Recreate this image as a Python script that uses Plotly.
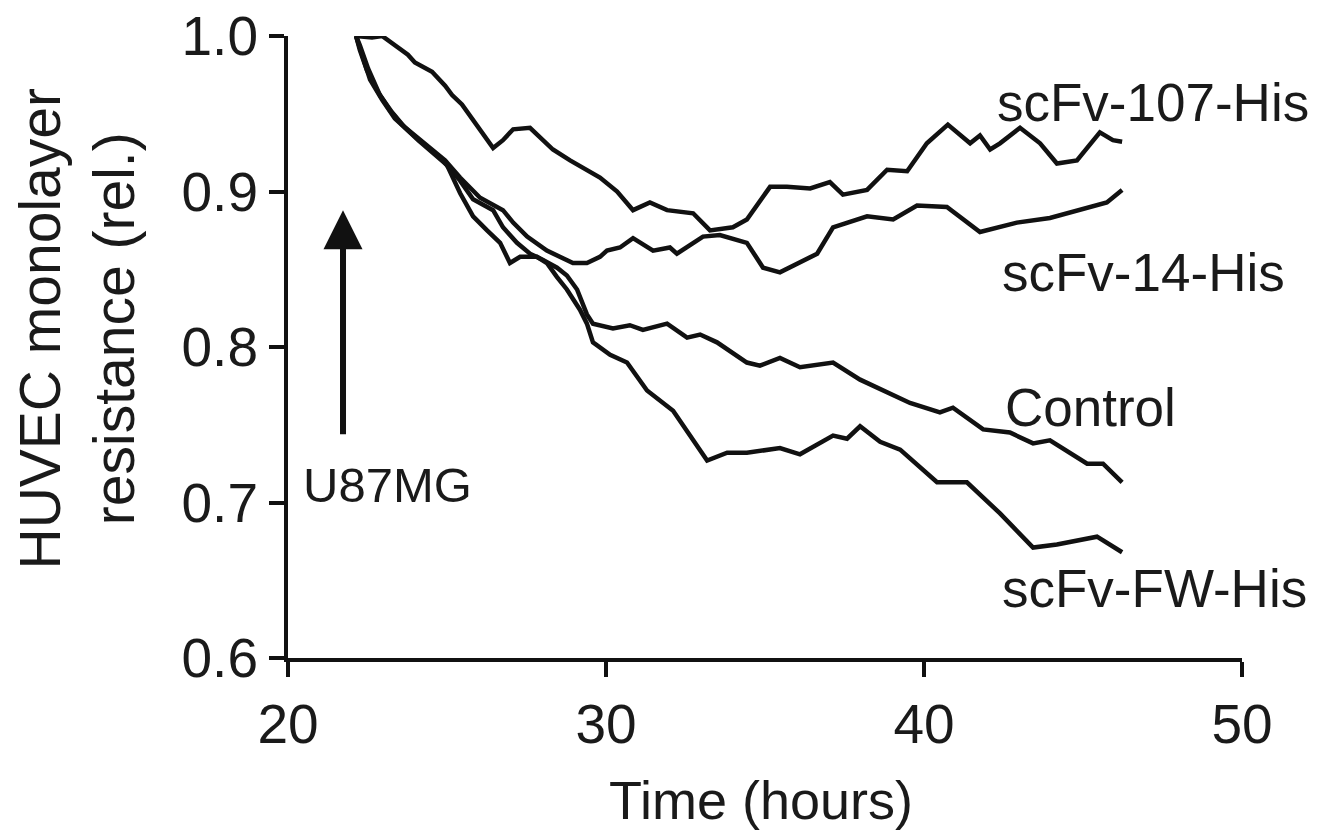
import plotly.graph_objects as go

# ---- data ----
t_107 = [22.14, 22.64, 22.96, 23.36, 23.77, 23.99, 24.53, 24.94, 25.16, 25.47, 25.79, 26.10, 26.45, 26.76,
         27.08, 27.61, 28.33, 28.87, 29.40, 29.81, 30.35, 30.85, 31.38, 31.92, 32.74, 33.27, 33.99, 34.43,
         35.16, 35.69, 36.42, 37.04, 37.45, 38.21, 38.84, 39.47, 40.09, 40.75, 41.45, 41.76, 42.08, 42.39,
         43.02, 43.65, 44.18, 44.81, 45.53, 45.94, 46.23]
r_107 = [1.000, 0.999, 1.000, 0.994, 0.988, 0.983, 0.977, 0.968, 0.962, 0.956, 0.947, 0.938, 0.928, 0.933,
         0.940, 0.941, 0.927, 0.920, 0.914, 0.909, 0.900, 0.888, 0.893, 0.888, 0.886, 0.875, 0.877, 0.882,
         0.903, 0.903, 0.902, 0.906, 0.898, 0.901, 0.914, 0.913, 0.931, 0.943, 0.931, 0.936, 0.927, 0.931,
         0.941, 0.931, 0.918, 0.920, 0.938, 0.933, 0.932]

t_14 = [22.14, 22.26, 22.48, 22.83, 23.21, 23.58, 23.99, 24.47, 24.94, 25.41, 26.04, 26.76, 27.08, 27.52,
        28.14, 28.96, 29.40, 29.81, 30.03, 30.44, 30.85, 31.48, 32.01, 32.23, 33.05, 33.58, 34.43, 34.94,
        35.47, 36.64, 37.14, 38.21, 39.03, 39.78, 40.72, 41.76, 42.92, 43.96, 45.22, 45.75, 46.23]
r_14 = [1.000, 0.991, 0.978, 0.964, 0.952, 0.943, 0.936, 0.928, 0.920, 0.909, 0.896, 0.888, 0.880, 0.871,
        0.862, 0.854, 0.854, 0.858, 0.862, 0.864, 0.870, 0.862, 0.864, 0.860, 0.871, 0.872, 0.867, 0.851,
        0.848, 0.860, 0.877, 0.884, 0.882, 0.891, 0.890, 0.874, 0.880, 0.883, 0.890, 0.893, 0.901]

t_ctrl = [22.14, 22.33, 22.58, 22.96, 23.36, 23.84, 24.31, 24.78, 25.41, 25.82, 26.45, 26.76, 27.20, 27.61,
          28.02, 28.46, 28.77, 29.09, 29.40, 29.59, 30.22, 30.75, 31.16, 31.92, 32.55, 32.96, 33.49, 34.43,
          34.84, 35.47, 36.10, 37.14, 37.99, 38.71, 39.56, 40.50, 40.91, 41.86, 42.70, 43.43, 43.96, 45.13,
          45.63, 46.23]
r_ctrl = [1.000, 0.988, 0.972, 0.959, 0.947, 0.938, 0.930, 0.922, 0.907, 0.895, 0.888, 0.877, 0.867, 0.860,
          0.856, 0.851, 0.846, 0.837, 0.821, 0.815, 0.812, 0.814, 0.811, 0.815, 0.806, 0.808, 0.803, 0.790,
          0.788, 0.793, 0.787, 0.790, 0.779, 0.772, 0.764, 0.758, 0.761, 0.747, 0.745, 0.738, 0.740, 0.725,
          0.725, 0.713]

t_fw = [22.14, 22.26, 22.52, 22.89, 23.27, 23.68, 24.09, 24.53, 25.00, 25.41, 25.82, 26.26, 26.67, 26.98,
        27.30, 27.83, 28.14, 28.46, 28.77, 29.18, 29.40, 29.59, 30.13, 30.66, 31.29, 32.11, 32.64, 33.18,
        33.81, 34.43, 35.47, 36.10, 37.14, 37.58, 37.99, 38.62, 39.25, 40.41, 41.35, 42.39, 43.43, 44.18,
        45.44, 46.23]
r_fw = [1.000, 0.994, 0.979, 0.962, 0.951, 0.941, 0.933, 0.925, 0.917, 0.899, 0.884, 0.875, 0.867, 0.854,
        0.858, 0.858, 0.854, 0.845, 0.837, 0.824, 0.815, 0.803, 0.795, 0.790, 0.772, 0.759, 0.743, 0.727,
        0.732, 0.732, 0.735, 0.731, 0.743, 0.741, 0.749, 0.739, 0.734, 0.713, 0.713, 0.693, 0.671, 0.673,
        0.678, 0.668]

series = [("scFv-107-His", t_107, r_107), ("scFv-14-His", t_14, r_14),
          ("Control", t_ctrl, r_ctrl), ("scFv-FW-His", t_fw, r_fw)]

# label positions (data coords)
label_names = ["scFv-107-His", "scFv-14-His", "Control", "scFv-FW-His"]
label_x = [42.23, 42.39, 42.48, 42.39]
label_y = [0.957, 0.848, 0.761, 0.645]

x_ticks = [20, 30, 40, 50]
y_ticks = [0.6, 0.7, 0.8, 0.9, 1.0]
y_tick_text = ["0.6", "0.7", "0.8", "0.9", "1.0"]

FONT = "Liberation Sans, Arial, sans-serif"
INK = "#111111"
TXT = "#1a1a1a"

fig = go.Figure()
for name, t, r in series:
    fig.add_trace(go.Scatter(x=t, y=r, mode="lines", name=name,
                             line=dict(color=INK, width=4.5), showlegend=False))

for name, lx, ly in zip(label_names, label_x, label_y):
    fig.add_annotation(x=lx, y=ly, xref="x", yref="y", text=name, showarrow=False,
                       xanchor="left", yanchor="middle",
                       font=dict(family=FONT, size=53, color=TXT))

# U87MG arrow + label
fig.add_annotation(x=21.73, y=0.888, ax=21.73, ay=0.743, xref="x", yref="y",
                   axref="x", ayref="y", text="", showarrow=True,
                   arrowhead=2, arrowsize=1.3, arrowwidth=6, arrowcolor=INK)
fig.add_annotation(x=20.42, y=0.711, xref="x", yref="y", text="U87MG", showarrow=False,
                   xanchor="left", yanchor="middle",
                   font=dict(family=FONT, size=49, color=TXT))

# axis titles
fig.add_annotation(x=-0.221, y=0.53, xref="paper", yref="paper",
                   text="HUVEC monolayer<br>resistance (rel.)", textangle=-90,
                   showarrow=False, xanchor="center", yanchor="middle",
                   font=dict(family=FONT, size=57, color=TXT))
fig.add_annotation(x=0.496, y=-0.228, xref="paper", yref="paper",
                   text="Time (hours)", showarrow=False, xanchor="center", yanchor="middle",
                   font=dict(family=FONT, size=54, color=TXT))

# the page adds an 8px body margin, so the figure is offset by 8px
fig.update_layout(
    width=1327, height=823,
    margin=dict(l=280, r=93, t=28, b=173, autoexpand=False),
    paper_bgcolor="white", plot_bgcolor="white",
)
fig.update_xaxes(range=[20, 50], tickvals=x_ticks, ticks="outside", ticklen=15, tickwidth=4,
                 tickcolor=INK, showline=True, linecolor=INK, linewidth=4, showgrid=False,
                 zeroline=False, automargin=False, ticklabeloverflow="allow",
                 tickfont=dict(family=FONT, size=55, color=TXT))
fig.update_yaxes(range=[0.6, 1.0], tickvals=y_ticks, ticktext=y_tick_text, ticks="outside",
                 ticklen=15, tickwidth=4, tickcolor=INK, showline=True, linecolor=INK,
                 linewidth=4, showgrid=False, zeroline=False, automargin=False,
                 ticklabeloverflow="allow",
                 tickfont=dict(family=FONT, size=55, color=TXT))

fig.write_html("out.html")
